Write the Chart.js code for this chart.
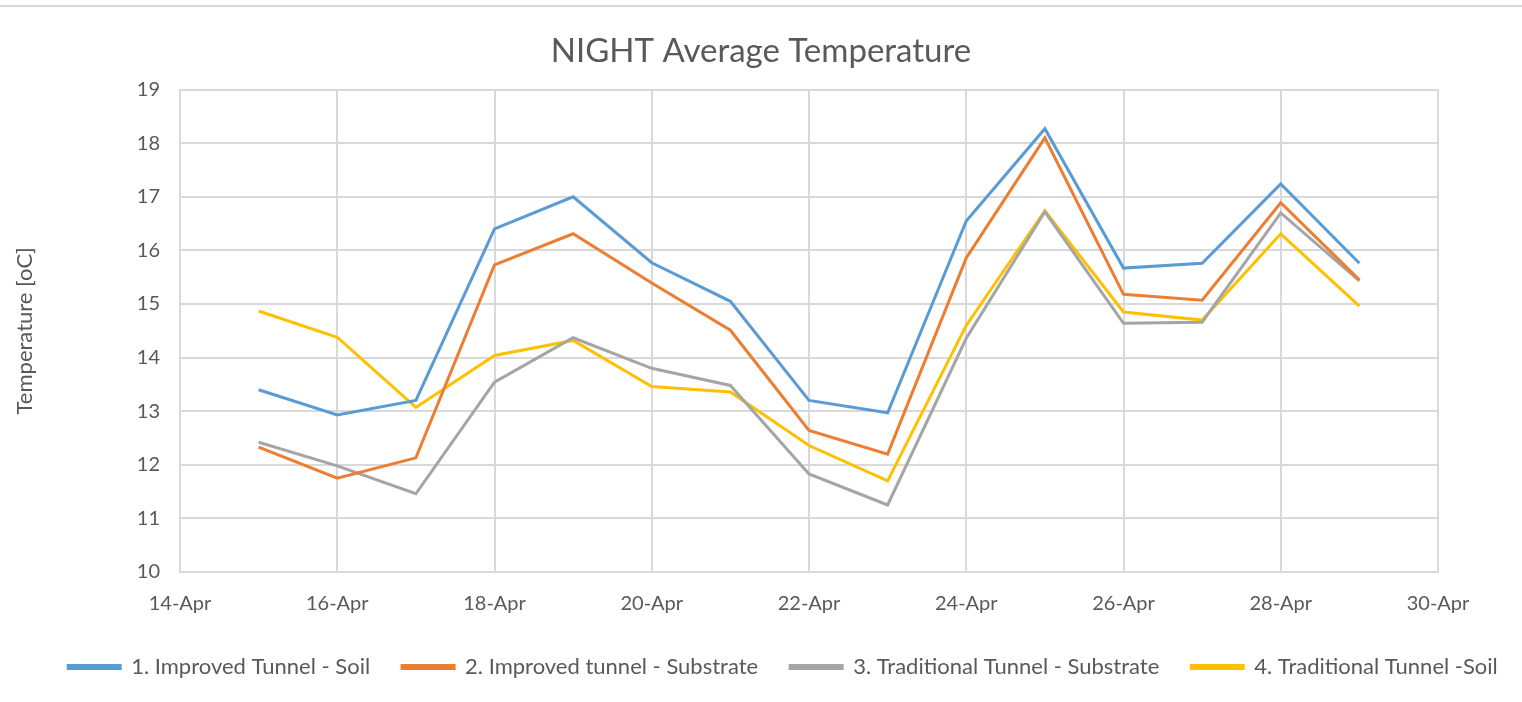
<!DOCTYPE html>
<html>
<head>
<meta charset="utf-8">
<script src="https://cdn.jsdelivr.net/npm/chart.js@4"></script>
<style>
  html, body { margin: 0; padding: 0; background: #fff; }
  #caja { width: 1522px; height: 702px; }
</style>
</head>
<body>
<div id="caja"><canvas id="graficaNoche"></canvas></div>
<script>
// Días de abril (eje X)
const dias = [15, 16, 17, 18, 19, 20, 21, 22, 23, 24, 25, 26, 27, 28, 29];

// Series de temperatura nocturna
const tunelMejoradoSuelo = [13.40, 12.93, 13.20, 16.40, 17.00, 15.77, 15.05, 13.20, 12.97, 16.55, 18.27, 15.67, 15.76, 17.24, 15.76];
const tunelMejoradoSustrato = [12.33, 11.75, 12.13, 15.73, 16.31, 15.39, 14.51, 12.64, 12.20, 15.86, 18.10, 15.18, 15.07, 16.89, 15.45];
const tunelTradicionalSustrato = [12.42, 11.98, 11.46, 13.54, 14.37, 13.80, 13.48, 11.83, 11.25, 14.36, 16.72, 14.64, 14.66, 16.70, 15.43];
const tunelTradicionalSuelo = [14.87, 14.38, 13.07, 14.04, 14.32, 13.46, 13.36, 12.36, 11.70, 14.60, 16.74, 14.85, 14.70, 16.31, 14.96];

const nombresSeries = [
  "1. Improved Tunnel - Soil",
  "2. Improved tunnel - Substrate",
  "3. Traditional Tunnel - Substrate",
  "4. Traditional Tunnel -Soil"
];
const coloresSeries = ["#5b9bd5", "#ed7d31", "#a5a5a5", "#ffc000"];
const valoresSeries = [tunelMejoradoSuelo, tunelMejoradoSustrato, tunelTradicionalSustrato, tunelTradicionalSuelo];

const fuente = "Lato, 'Open Sans', sans-serif";
const textoTicks = { family: fuente, size: 20 };
const textoLeyenda = { family: fuente, size: 22 };

// Línea gris del marco superior
const marcoSuperior = {
  id: "marcoSuperior",
  beforeDraw(chart) {
    const c = chart.ctx;
    c.save();
    c.strokeStyle = "#d9d9d9";
    c.lineWidth = 2;
    c.beginPath();
    c.moveTo(0, 6);
    c.lineTo(chart.width, 6);
    c.stroke();
    c.restore();
  }
};

// La leyenda del original está un poco corrida a la derecha
const moverLeyenda = {
  id: "moverLeyenda",
  afterLayout(chart) {
    chart.legend.left += 22;
    chart.legend.right += 22;
  }
};

const ctx = document.getElementById("graficaNoche").getContext("2d");
new Chart(ctx, {
  type: "line",
  data: {
    datasets: valoresSeries.map((serie, i) => ({
      label: nombresSeries[i],
      data: serie.map((v, j) => ({ x: dias[j], y: v })),
      borderColor: coloresSeries[i],
      backgroundColor: coloresSeries[i],
      borderWidth: 3,
      pointRadius: 0,
      tension: 0,
      fill: false
    }))
  },
  options: {
    responsive: true,
    maintainAspectRatio: false,
    animation: false,
    layout: { padding: { left: 0, right: 0, top: 0, bottom: 14 } },
    plugins: {
      title: {
        display: true,
        text: "NIGHT Average Temperature",
        color: "#595959",
        font: { family: fuente, size: 33, weight: "normal" },
        padding: { top: 32, bottom: 18 }
      },
      legend: {
        position: "bottom",
        labels: {
          color: "#595959",
          font: textoLeyenda,
          boxWidth: 52,
          boxHeight: 3,
          padding: 32
        }
      },
      tooltip: { enabled: false }
    },
    scales: {
      x: {
        type: "linear",
        min: 14,
        max: 30,
        afterFit: s => { s.height = 52; },
        ticks: {
          stepSize: 2,
          color: "#595959",
          font: textoTicks,
          padding: 20,
          maxRotation: 0,
          callback: v => v + "-Apr"
        },
        grid: { color: "#d9d9d9", lineWidth: 2, drawTicks: false },
        border: { color: "#d9d9d9", width: 2 }
      },
      y: {
        min: 10,
        max: 19,
        afterFit: s => { s.width = 180; },
        ticks: {
          stepSize: 1,
          color: "#595959",
          font: textoTicks,
          padding: 20
        },
        grid: { color: "#d9d9d9", lineWidth: 2, drawTicks: false },
        border: { color: "#d9d9d9", width: 2 },
        title: {
          display: true,
          text: "Temperature [oC]",
          color: "#595959",
          font: textoLeyenda,
          padding: { top: 12, bottom: 0 }
        }
      },
      // eje vacío a la derecha para dejar el margen del original
      margenDerecho: {
        type: "linear",
        position: "right",
        afterFit: s => { s.width = 84; },
        ticks: { display: false },
        grid: { display: false },
        border: { display: false }
      }
    }
  },
  plugins: [marcoSuperior, moverLeyenda]
});
</script>
</body>
</html>
